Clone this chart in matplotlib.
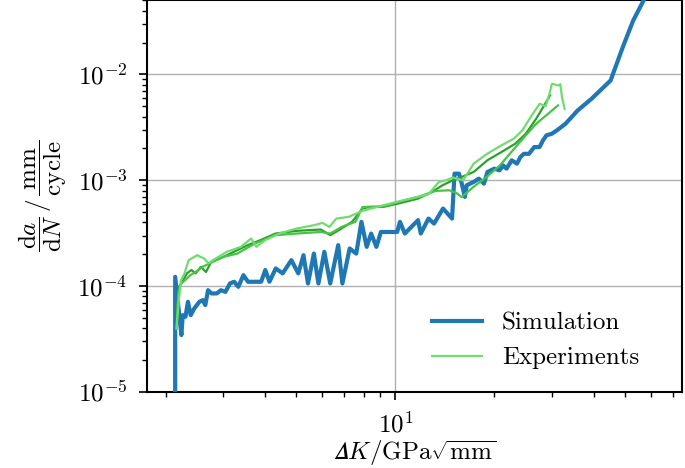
import numpy as np
import matplotlib
matplotlib.use("Agg")
import matplotlib.pyplot as plt
from matplotlib.ticker import NullFormatter

plt.rcParams['font.family'] = 'serif'
plt.rcParams['font.serif'] = ['cmr10']
plt.rcParams['mathtext.fontset'] = 'cm'
plt.rcParams['axes.formatter.use_mathtext'] = True
plt.rcParams['font.size'] = 18

# simulation: crack growth rate over stress intensity range
sim_dk = [2.14, 2.14, 2.235, 2.256, 2.30, 2.34, 2.386, 2.445, 2.535, 2.597, 2.642,
          2.694, 2.760, 2.862, 2.947, 3.042, 3.140, 3.233, 3.329, 3.451, 3.562,
          3.739, 3.906, 4.021, 4.140, 4.326, 4.541, 4.826, 5.066, 5.253, 5.422,
          5.650, 5.832, 6.078, 6.335, 6.699, 6.897, 7.258, 7.600, 7.882, 8.175,
          8.437, 8.750, 9.031, 10.12, 10.32, 10.68, 11.71, 11.94, 12.60, 13.10,
          13.95, 14.86, 15.12, 15.60, 15.86, 16.26, 16.46, 17.28, 17.92, 18.58,
          19.04, 19.98, 20.73, 21.23, 21.76, 22.56, 23.40, 23.98, 24.57, 25.47,
          26.42, 27.41, 28.08, 28.77, 29.84, 30.94, 32.88, 35.80, 39.45, 45.08,
          49.09, 52.80, 56.77, 61.1]
sim_rate = [8e-6, 1.225e-4, 3.45e-5, 5.32e-5, 5.14e-5, 7.11e-5, 5.32e-5, 6.15e-5,
            7.11e-5, 7.38e-5, 6.62e-5, 9.16e-5, 8.53e-5, 8.53e-5, 9.16e-5, 8.83e-5,
            1.06e-4, 1.10e-4, 9.86e-5, 1.27e-4, 1.10e-4, 1.10e-4, 1.10e-4, 1.42e-4,
            1.10e-4, 1.47e-4, 1.32e-4, 1.76e-4, 1.32e-4, 1.96e-4, 1.06e-4, 2.03e-4,
            1.06e-4, 2.11e-4, 1.06e-4, 2.44e-4, 1.06e-4, 2.27e-4, 2.03e-4, 4.05e-4,
            2.35e-4, 3.14e-4, 2.35e-4, 3.25e-4, 3.25e-4, 4.05e-4, 3.14e-4, 4.20e-4,
            3.14e-4, 4.35e-4, 3.90e-4, 5.41e-4, 4.35e-4, 1.156e-3, 1.156e-3, 9.64e-4,
            6.97e-4, 8.97e-4, 9.64e-4, 1.037e-3, 9.30e-4, 1.199e-3, 1.288e-3, 1.242e-3,
            1.385e-3, 1.288e-3, 1.545e-3, 1.436e-3, 1.66e-3, 1.78e-3, 1.78e-3, 2.06e-3,
            2.06e-3, 2.38e-3, 2.66e-3, 2.75e-3, 2.96e-3, 3.42e-3, 4.57e-3, 5.89e-3,
            8.77e-3, 1.81e-2, 3.23e-2, 4.99e-2, 7.7e-2]

# experiments, three specimens
exp1_dk = [2.16, 2.196, 2.229, 2.284, 2.351, 2.498, 2.624, 2.701, 2.788, 3.073,
           3.388, 3.644, 3.779, 4.017, 4.426, 4.998, 5.647, 6.00, 6.30, 6.61, 7.20,
           7.94, 9.18, 10.37, 11.71, 12.60, 13.55, 14.23, 14.94, 16.07, 17.29, 19.05,
           21.00, 22.87, 24.30, 26.15, 27.44, 28.6, 29.4, 29.9, 31.3, 31.7, 32.1, 32.7]
exp1_rate = [3.99e-5, 7.38e-5, 1.14e-4, 1.32e-4, 1.76e-4, 1.96e-4, 1.82e-4, 1.64e-4,
             1.76e-4, 2.11e-4, 2.35e-4, 2.82e-4, 2.35e-4, 2.72e-4, 3.14e-4, 3.50e-4,
             3.76e-4, 3.96e-4, 3.63e-4, 4.35e-4, 4.51e-4, 5.14e-4, 5.81e-4, 6.38e-4,
             6.97e-4, 7.38e-4, 9.64e-4, 1.0e-3, 1.06e-3, 1.0e-3, 1.44e-3, 1.79e-3,
             2.14e-3, 2.47e-3, 2.96e-3, 4.26e-3, 5.29e-3, 5.0e-3, 6.6e-3, 8.17e-3,
             7.87e-3, 8.1e-3, 6.0e-3, 4.74e-3]

exp2_dk = [2.16, 2.196, 2.251, 2.323, 2.398, 2.469, 2.561, 2.656, 2.754, 3.0, 3.226,
           3.556, 3.918, 4.32, 5.0, 5.93, 6.34, 6.78, 7.38, 7.94, 8.33, 9.18, 10.37,
           11.71, 12.91, 13.89, 14.94, 16.07, 17.29, 19.05, 21.0, 23.14, 24.89, 26.79,
           28.12, 29.5]
exp2_rate = [3.99e-5, 9.86e-5, 1.10e-4, 1.32e-4, 1.42e-4, 1.32e-4, 1.52e-4, 1.36e-4,
             1.70e-4, 1.89e-4, 2.11e-4, 2.44e-4, 2.75e-4, 3.14e-4, 3.33e-4, 3.43e-4,
             3.03e-4, 3.43e-4, 4.05e-4, 5.41e-4, 5.60e-4, 5.60e-4, 6.11e-4, 6.71e-4,
             7.76e-4, 8.97e-4, 1.0e-3, 1.09e-3, 1.20e-3, 1.55e-3, 1.85e-3, 2.22e-3,
             2.75e-3, 3.82e-3, 4.92e-3, 6.34e-3]

exp3_dk = [2.16, 2.186, 2.229, 2.295, 2.38, 2.469, 2.593, 2.72, 3.0, 3.305, 3.733,
           4.32, 5.0, 5.93, 6.34, 6.86, 7.56, 7.94, 9.18, 10.63, 11.71, 13.23, 14.58,
           15.3, 15.9, 17.25, 18.9, 20.8, 22.5, 24.4, 26.8, 29.1, 31.2]
exp3_rate = [3.99e-5, 8.53e-5, 1.06e-4, 1.14e-4, 1.27e-4, 1.36e-4, 1.52e-4, 1.64e-4,
             1.89e-4, 2.03e-4, 2.52e-4, 3.03e-4, 3.14e-4, 3.25e-4, 3.14e-4, 3.63e-4,
             4.05e-4, 5.60e-4, 5.67e-4, 6.47e-4, 6.97e-4, 7.93e-4, 8.05e-4, 7.6e-4,
             6.95e-4, 8.65e-4, 1.07e-3, 1.39e-3, 1.85e-3, 2.47e-3, 3.43e-3, 4.25e-3,
             5.10e-3]

fig = plt.figure(figsize=(6.85, 4.68), dpi=100)
ax = fig.add_axes([0.2146, 0.1624, 0.7810, 0.8366])

ax.plot(sim_dk, sim_rate, color='#1f77b4', lw=3, label='Simulation', zorder=3)
ax.plot(exp2_dk, exp2_rate, color='#2ca02c', lw=1.6, zorder=4)
ax.plot(exp3_dk, exp3_rate, color='#45c445', lw=1.6, zorder=4)
ax.plot(exp1_dk, exp1_rate, color='#70dc70', lw=1.6, label='Experiments', zorder=4)

ax.set_xscale('log')
ax.set_yscale('log')
ax.set_xlim(1.757, 74.3)
ax.set_ylim(1e-5, 5e-2)
ax.xaxis.set_minor_formatter(NullFormatter())
ax.grid(True, which='major', color='#b0b0b0', lw=1)
ax.tick_params(which='major', length=6, width=1.2, pad=8)
ax.tick_params(which='minor', length=3.5, width=1)
for s in ax.spines.values():
    s.set_linewidth(1.5)

ax.set_xlabel(r'$\mathit{𝛥} K / \mathrm{GPa}\sqrt{\mathrm{mm}}$', labelpad=1)
ax.set_ylabel(r'$\dfrac{\mathrm{d}a}{\mathrm{d}N} \,/\, \dfrac{\mathrm{mm}}{\mathrm{cycle}}$', labelpad=6)
ax.legend(loc='lower right', frameon=False, bbox_to_anchor=(0.962, 0.0))

plt.savefig('out.png', dpi=100)
